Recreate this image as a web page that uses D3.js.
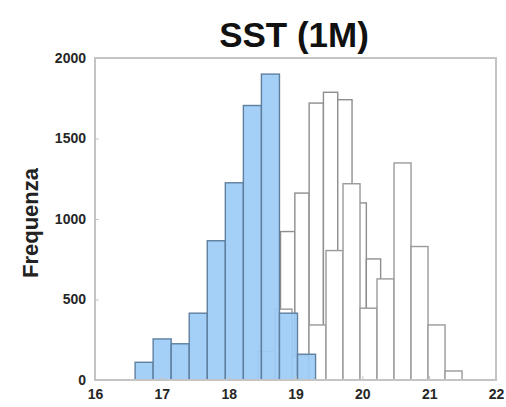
<!DOCTYPE html>
<html>
<head>
<meta charset="utf-8">
<script src="https://cdn.jsdelivr.net/npm/d3@7"></script>
<style>
  body { margin: 0; background: #fff; }
  svg { display: block; font-family: "Liberation Sans", Arial, sans-serif; }
</style>
</head>
<body>
<div id="chart"></div>
<script>
// Chart size and plot box
const width = 506;
const height = 407;
const margin = {left: 95, right: 10, top: 58, bottom: 27};

// Histogram data (bin start, bin width, counts)
const blueStart = 16.6;
const blueWidth = 0.27;
const blueCounts = [110, 255, 225, 415, 865, 1225, 1705, 1900, 415, 160];

const white1Start = 18.776;
const white1Width = 0.214;
const white1Counts = [922, 1161, 1720, 1787, 1741, 1100, 752, 500, 93];

const white2Start = 18.439;
const white2Width = 0.2544;
const white2Counts = [176, 440, 150, 342, 804, 1219, 446, 628, 1348, 829, 342, 56];

const xTicks = [16, 17, 18, 19, 20, 21, 22];
const yTicks = [0, 500, 1000, 1500, 2000];

const svg = d3.select("#chart")
  .append("svg")
  .attr("width", width)
  .attr("height", height);

// Scales
const x = d3.scaleLinear()
  .domain([16, 22])
  .range([margin.left, width - margin.right]);

const y = d3.scaleLinear()
  .domain([0, 2000])
  .range([height - margin.bottom, margin.top]);

// turn counts into bins
function bins(start, w, counts) {
  return counts.map((c, i) => ({x0: start + i * w, x1: start + (i + 1) * w, count: c}));
}

function drawHist(data, fill, stroke, opacity) {
  svg.append("g")
    .selectAll("rect")
    .data(data)
    .enter()
    .append("rect")
    .attr("x", d => x(d.x0))
    .attr("y", d => y(d.count))
    .attr("width", d => x(d.x1) - x(d.x0))
    .attr("height", d => y(0) - y(d.count))
    .attr("fill", fill)
    .attr("fill-opacity", opacity)
    .attr("stroke", stroke)
    .attr("stroke-width", 1.4);
}

drawHist(bins(white1Start, white1Width, white1Counts), "#fff", "#8e8e8e", 1);
drawHist(bins(white2Start, white2Width, white2Counts), "#fff", "#9a9a9a", 1);
drawHist(bins(blueStart, blueWidth, blueCounts), "#9dcbf6", "#5f7f9f", 0.93);

// Axes (ticks inside, MATLAB style)
const xAxis = svg.append("g")
  .attr("transform", `translate(0,${height - margin.bottom})`)
  .call(d3.axisBottom(x).tickValues(xTicks).tickSize(-4).tickPadding(9).tickFormat(d3.format("d")));

const yAxis = svg.append("g")
  .attr("transform", `translate(${margin.left},0)`)
  .call(d3.axisLeft(y).tickValues(yTicks).tickSize(-4).tickPadding(9).tickFormat(d3.format("d")));

[xAxis, yAxis].forEach(a => {
  a.select(".domain").remove();
  a.selectAll(".tick line").attr("stroke", "#c4c4c4");
  a.selectAll("text")
    .attr("fill", "#262626")
    .attr("font-size", "14px")
    .attr("font-weight", "bold");
});

// box around the plot
svg.append("rect")
  .attr("x", x(16))
  .attr("y", y(2000))
  .attr("width", x(22) - x(16))
  .attr("height", y(0) - y(2000))
  .attr("fill", "none")
  .attr("stroke", "#c4c4c4")
  .attr("stroke-width", 2);

// Title
svg.append("text")
  .attr("x", 294)
  .attr("y", 47)
  .attr("text-anchor", "middle")
  .attr("font-size", "35px")
  .attr("font-weight", "bold")
  .attr("fill", "#111")
  .text("SST (1M)");

// Y label
svg.append("text")
  .attr("transform", `translate(38,${(y(0) + y(2000)) / 2 + 4}) rotate(-90)`)
  .attr("text-anchor", "middle")
  .attr("font-size", "22px")
  .attr("font-weight", "bold")
  .attr("fill", "#222")
  .text("Frequenza");
</script>
</body>
</html>
